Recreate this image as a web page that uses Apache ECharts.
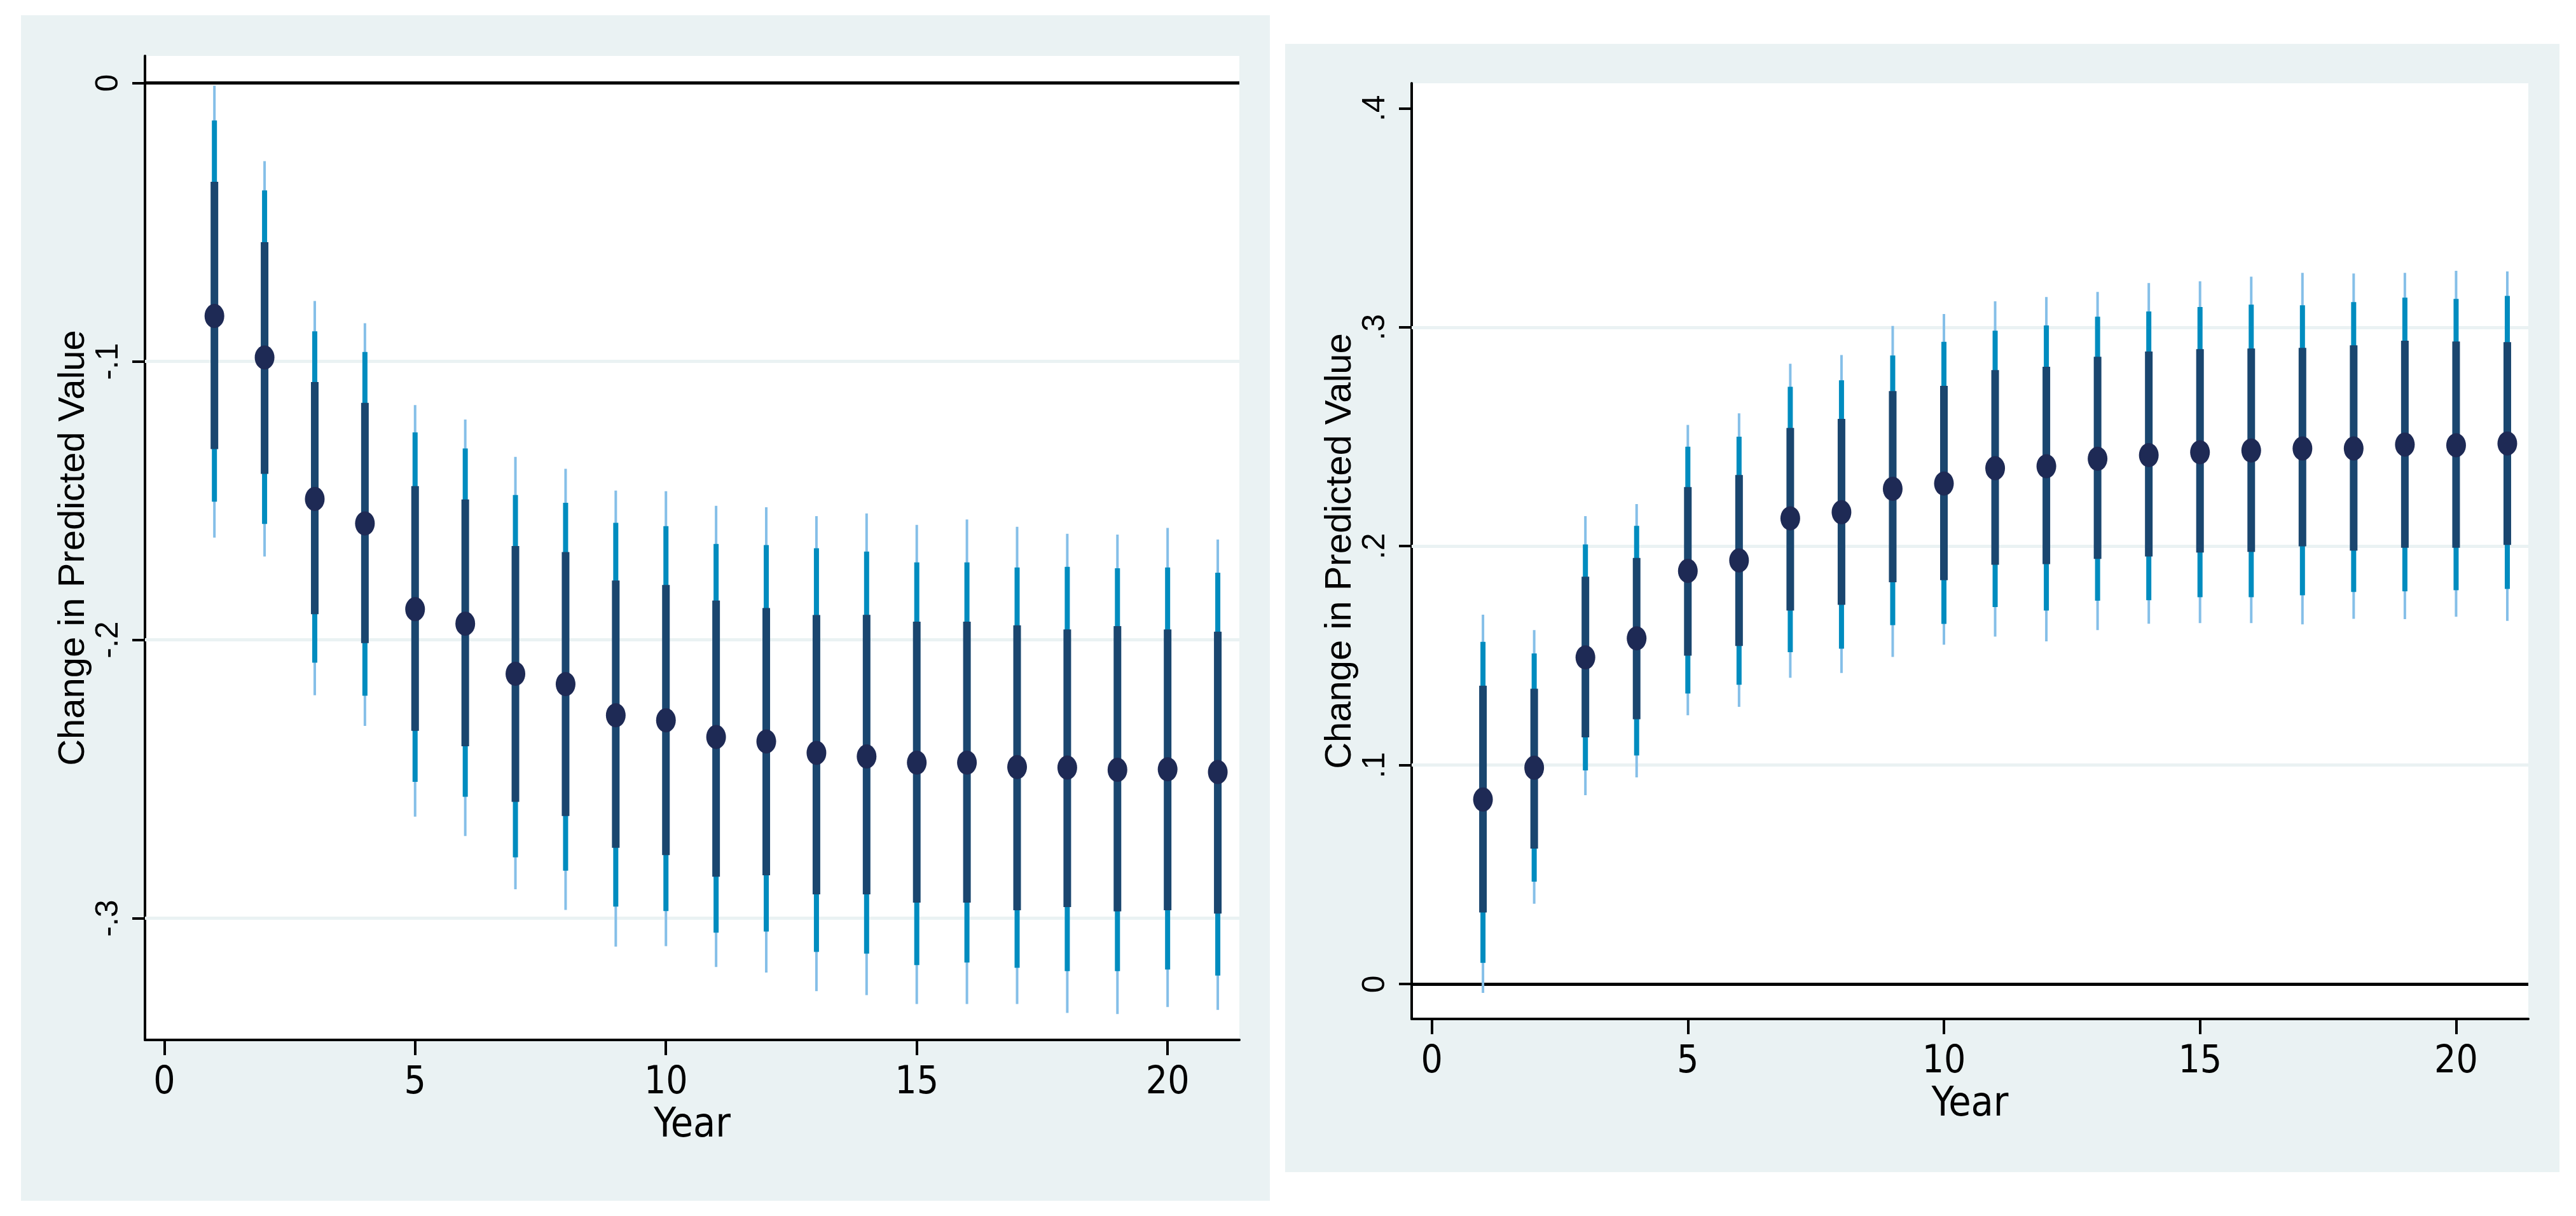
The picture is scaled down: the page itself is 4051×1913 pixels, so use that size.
<!DOCTYPE html>
<html>
<head>
<meta charset="utf-8">
<script src="https://cdn.jsdelivr.net/npm/echarts@6/dist/echarts.min.js"></script>
<style>
html,body{margin:0;padding:0;background:#ffffff;}
#chart{width:4051px;height:1913px;}
</style>
</head>
<body>
<div id="chart"></div>
<script>
// ---------------- DATA ----------------
const years = [1,2,3,4,5,6,7,8,9,10,11,12,13,14,15,16,17,18,19,20,21];
const xTicks = [0,5,10,15,20];
const leftYTicks = [-0.3,-0.2,-0.1,0];
const rightYTicks = [0,0.1,0.2,0.3,0.4];
const leftGrid = [-0.3,-0.2,-0.1];
const rightGrid = [0.1,0.2,0.3];

// Left panel
const leftPoint   = [-0.0837,-0.0986,-0.1494,-0.1582,-0.1890,-0.1942,-0.2122,-0.2159,-0.2271,-0.2289,-0.2349,-0.2365,-0.2406,-0.2419,-0.2441,-0.2441,-0.2457,-0.2459,-0.2467,-0.2465,-0.2475];
const leftThickHi = [-0.0355,-0.0572,-0.1074,-0.1149,-0.1448,-0.1496,-0.1663,-0.1685,-0.1787,-0.1803,-0.1859,-0.1886,-0.1911,-0.1910,-0.1935,-0.1935,-0.1948,-0.1963,-0.1951,-0.1963,-0.1971];
const leftThickLo = [-0.1315,-0.1404,-0.1908,-0.2012,-0.2327,-0.2382,-0.2582,-0.2633,-0.2747,-0.2773,-0.2851,-0.2846,-0.2914,-0.2914,-0.2944,-0.2944,-0.2971,-0.2960,-0.2975,-0.2971,-0.2983];
const leftMedHi   = [-0.0135,-0.0386,-0.0892,-0.0966,-0.1255,-0.1313,-0.1480,-0.1508,-0.1580,-0.1592,-0.1656,-0.1660,-0.1671,-0.1683,-0.1722,-0.1722,-0.1740,-0.1738,-0.1743,-0.1740,-0.1759];
const leftMedLo   = [-0.1504,-0.1584,-0.2082,-0.2201,-0.2510,-0.2564,-0.2781,-0.2829,-0.2958,-0.2974,-0.3052,-0.3048,-0.3121,-0.3127,-0.3168,-0.3159,-0.3178,-0.3190,-0.3190,-0.3184,-0.3206];
const leftThinHi  = [-0.0010,-0.0281,-0.0783,-0.0863,-0.1157,-0.1209,-0.1343,-0.1386,-0.1464,-0.1466,-0.1519,-0.1524,-0.1556,-0.1546,-0.1587,-0.1568,-0.1594,-0.1619,-0.1622,-0.1598,-0.1640];
const leftThinLo  = [-0.1633,-0.1701,-0.2199,-0.2309,-0.2635,-0.2705,-0.2896,-0.2970,-0.3102,-0.3100,-0.3175,-0.3195,-0.3262,-0.3276,-0.3308,-0.3308,-0.3308,-0.3340,-0.3344,-0.3319,-0.3329];

// Right panel
const rightPoint   = [0.0843,0.0988,0.1492,0.1579,0.1887,0.1935,0.2127,0.2155,0.2262,0.2286,0.2356,0.2365,0.2399,0.2416,0.2429,0.2437,0.2446,0.2446,0.2464,0.2461,0.2469];
const rightThickHi = [0.1363,0.1349,0.1861,0.1946,0.2270,0.2325,0.2540,0.2581,0.2708,0.2732,0.2804,0.2819,0.2865,0.2889,0.2900,0.2903,0.2906,0.2917,0.2938,0.2935,0.2932];
const rightThickLo = [0.0327,0.0619,0.1127,0.1210,0.1500,0.1544,0.1706,0.1732,0.1835,0.1845,0.1915,0.1918,0.1942,0.1953,0.1971,0.1974,0.1999,0.1980,0.1993,0.1993,0.2006];
const rightMedHi   = [0.1563,0.1510,0.2008,0.2093,0.2454,0.2500,0.2728,0.2758,0.2871,0.2933,0.2984,0.3008,0.3048,0.3072,0.3092,0.3103,0.3100,0.3115,0.3135,0.3129,0.3143];
const rightMedLo   = [0.0097,0.0468,0.0976,0.1044,0.1327,0.1367,0.1516,0.1532,0.1639,0.1645,0.1722,0.1706,0.1751,0.1753,0.1767,0.1767,0.1776,0.1791,0.1794,0.1799,0.1805];
const rightThinHi  = [0.1687,0.1617,0.2137,0.2192,0.2554,0.2607,0.2833,0.2873,0.3006,0.3060,0.3118,0.3138,0.3161,0.3202,0.3210,0.3231,0.3248,0.3245,0.3248,0.3258,0.3255];
const rightThinLo  = [-0.0040,0.0367,0.0863,0.0944,0.1228,0.1266,0.1399,0.1421,0.1494,0.1550,0.1587,0.1565,0.1617,0.1646,0.1649,0.1649,0.1643,0.1668,0.1667,0.1678,0.1659];

const xTitle = 'Year';
const yTitle = 'Change in Predicted Value';

// ---------------- STYLE ----------------
const PANEL_BG = '#eaf2f3';
const GRID_LINE = '#eaf2f3';
const C_THIN = '#85bfe8';
const C_MED = '#008cbf';
const C_THICK = '#1a466f';
const C_DOT = '#1e2a55';
const NARROW = "'Liberation Sans Narrow','DejaVu Sans Condensed','Liberation Sans',Arial,sans-serif";
const REG = "'Liberation Sans',Arial,sans-serif";
const ELLIPSE = 'path://M0,50 A50,50 0 1,1 100,50 A50,50 0 1,1 0,50 Z';

function fmt(v){
  if (Math.abs(v) < 1e-9) return '0';
  const s = Math.abs(v).toFixed(1).replace(/^0/, '');
  return (v < 0 ? '-' : '') + s;
}

function intervalSeries(gi, lo, hi, color, width, z){
  return {
    type:'custom', xAxisIndex:gi, yAxisIndex:gi, z:z, silent:true, clip:false,
    data: years.map((y,i)=>[y, lo[i], hi[i]]),
    encode:{x:0, y:[1,2]},
    renderItem:function(params, api){
      const p1 = api.coord([api.value(0), api.value(1)]);
      const p2 = api.coord([api.value(0), api.value(2)]);
      return {type:'line', shape:{x1:p1[0], y1:p1[1], x2:p2[0], y2:p2[1]},
        style:{stroke:color, lineWidth:width, lineCap:'butt'}};
    }
  };
}

function gridMarks(gi, vals){
  const data = vals.map(v=>({yAxis:v, lineStyle:{color:GRID_LINE, width:5, type:'solid'}}));
  data.push({yAxis:0, lineStyle:{color:'#000', width:5, type:'solid'}});
  return {
    type:'line', xAxisIndex:gi, yAxisIndex:gi, data:[], z:1, silent:true,
    markLine:{silent:true, symbol:['none','none'], label:{show:false}, z:1,
      animation:false, data:data}
  };
}

function xAxisCfg(gi, min, max){
  return {
    type:'value', gridIndex:gi, min:min, max:max,
    name:xTitle, nameLocation:'middle', nameGap: gi===0 ? 100 : 95,
    nameTextStyle:{fontFamily:NARROW, fontSize:64, color:'#000'},
    axisLine:{show:true, onZero:false, lineStyle:{color:'#000', width:4}},
    axisTick:{show:true, length:24, lineStyle:{color:'#000', width:4}, customValues:xTicks},
    axisLabel:{show:true, margin:38, fontFamily:NARROW, fontSize:60, color:'#000',
      customValues:xTicks, formatter:v=>String(v)},
    splitLine:{show:false}
  };
}

function yAxisCfg(gi, min, max, ticks){
  return {
    type:'value', gridIndex:gi, min:min, max:max,
    name:yTitle, nameLocation:'middle', nameRotate:90, nameGap:80,
    nameTextStyle:{fontFamily:REG, fontSize:58, color:'#000'},
    axisLine:{show:true, onZero:false, lineStyle:{color:'#000', width:4}},
    axisTick:{show:true, length:20, lineStyle:{color:'#000', width:4}, customValues:ticks},
    axisLabel:{show:true, rotate:90, margin:32, fontFamily:REG, fontSize:50, color:'#000',
      customValues:ticks, formatter:fmt},
    splitLine:{show:false}
  };
}

const chart = echarts.init(document.getElementById('chart'), null, {renderer:'canvas'});

const option = {
  backgroundColor:'#ffffff',
  animation:false,
  graphic:[
    {type:'rect', z:-10, silent:true, shape:{x:33, y:24, width:1964, height:1865}, style:{fill:PANEL_BG}},
    {type:'rect', z:-10, silent:true, shape:{x:2021, y:69, width:2004, height:1775}, style:{fill:PANEL_BG}}
  ],
  grid:[
    {left:228, top:88, width:1721, height:1548, show:true, backgroundColor:'#ffffff', borderWidth:0, containLabel:false},
    {left:2220, top:131, width:1756, height:1472, show:true, backgroundColor:'#ffffff', borderWidth:0, containLabel:false}
  ],
  xAxis:[ xAxisCfg(0, -0.384, 21.43), xAxisCfg(1, -0.392, 21.41) ],
  yAxis:[ yAxisCfg(0, -0.3437, 0.0097, leftYTicks), yAxisCfg(1, -0.0159, 0.4114, rightYTicks) ],
  series:[
    gridMarks(0, leftGrid),
    gridMarks(1, rightGrid),
    intervalSeries(0, leftThinLo, leftThinHi, C_THIN, 4, 2),
    intervalSeries(0, leftMedLo, leftMedHi, C_MED, 8, 3),
    intervalSeries(0, leftThickLo, leftThickHi, C_THICK, 12, 4),
    {type:'scatter', xAxisIndex:0, yAxisIndex:0, z:5, silent:true, symbol:ELLIPSE, symbolSize:[31,38],
      itemStyle:{color:C_DOT, opacity:1}, data: years.map((y,i)=>[y, leftPoint[i]])},
    intervalSeries(1, rightThinLo, rightThinHi, C_THIN, 4, 2),
    intervalSeries(1, rightMedLo, rightMedHi, C_MED, 8, 3),
    intervalSeries(1, rightThickLo, rightThickHi, C_THICK, 12, 4),
    {type:'scatter', xAxisIndex:1, yAxisIndex:1, z:5, silent:true, symbol:ELLIPSE, symbolSize:[31,38],
      itemStyle:{color:C_DOT, opacity:1}, data: years.map((y,i)=>[y, rightPoint[i]])}
  ]
};
chart.setOption(option);
</script>
</body>
</html>
